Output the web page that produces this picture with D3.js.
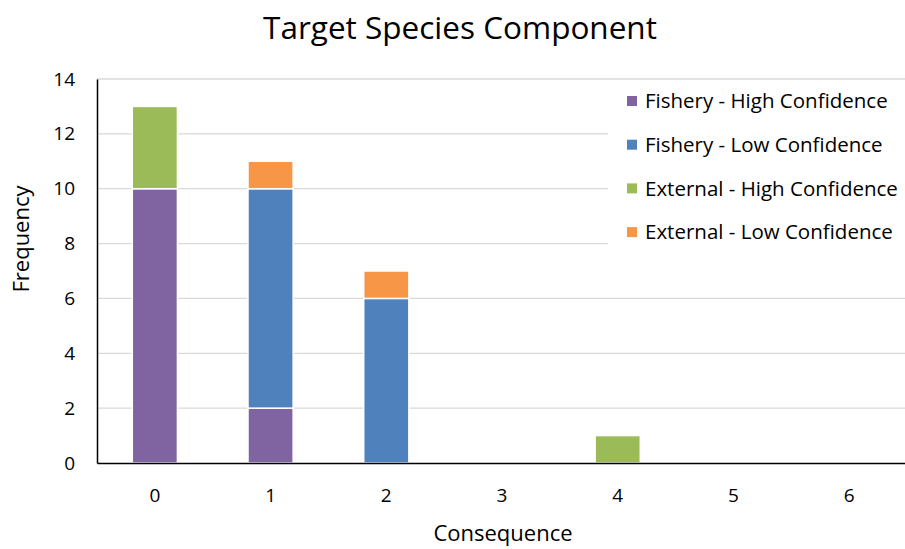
<!DOCTYPE html>
<html>
<head>
<meta charset="utf-8">
<script src="https://cdnjs.cloudflare.com/ajax/libs/d3/7.8.5/d3.min.js"></script>
<style>
  body { margin: 0; background: #fff; }
  svg text { font-family: "Open Sans", Lato, sans-serif; fill: #000; }
</style>
</head>
<body>
<div id="chart"></div>
<script>
const categories = ["0", "1", "2", "3", "4", "5", "6"];
const seriesNames = ["Fishery - High Confidence", "Fishery - Low Confidence", "External - High Confidence", "External - Low Confidence"];
const fisheryHigh = [10, 2, 0, 0, 0, 0, 0];
const fisheryLow = [0, 8, 6, 0, 0, 0, 0];
const externalHigh = [3, 0, 0, 0, 1, 0, 0];
const externalLow = [0, 1, 1, 0, 0, 0, 0];
const yTicks = [0, 2, 4, 6, 8, 10, 12, 14];
const colors = ["#8064a2", "#4f81bd", "#9bbb59", "#f79646"];

const W = 905, H = 549;
const margin = { top: 79, right: 0, bottom: 86, left: 97 };
const width = 810, height = H - margin.top - margin.bottom;

const rows = categories.map((c, i) => ({
  cat: c,
  [seriesNames[0]]: fisheryHigh[i],
  [seriesNames[1]]: fisheryLow[i],
  [seriesNames[2]]: externalHigh[i],
  [seriesNames[3]]: externalLow[i]
}));

const stacked = d3.stack().keys(seriesNames)(rows);

const svg = d3.select("#chart").append("svg")
  .attr("width", W).attr("height", H);

const g = svg.append("g").attr("transform", `translate(${margin.left},${margin.top})`);

const x = d3.scaleBand().domain(categories).range([0, width]).paddingInner(0.61).paddingOuter(0.305);
const y = d3.scaleLinear().domain([0, 14]).range([height, 0]);
const color = d3.scaleOrdinal().domain(seriesNames).range(colors);

// gridlines
g.append("g")
  .selectAll("line")
  .data(yTicks.filter(d => d > 0))
  .join("line")
  .attr("x1", 0).attr("x2", W - margin.left)
  .attr("y1", d => y(d)).attr("y2", d => y(d))
  .attr("stroke", "#d9d9d9").attr("stroke-width", 1.3);

// bars
g.append("g")
  .selectAll("g")
  .data(stacked)
  .join("g")
  .attr("fill", d => color(d.key))
  .selectAll("rect")
  .data(d => d.filter(p => p[1] - p[0] > 0))
  .join("rect")
  .attr("x", d => x(d.data.cat))
  .attr("y", d => y(d[1]))
  .attr("width", x.bandwidth())
  .attr("height", d => y(d[0]) - y(d[1]))
  .attr("stroke", "#fff")
  .attr("stroke-width", 1.5);

// axes
const yAxis = g.append("g")
  .call(d3.axisLeft(y).tickValues(yTicks).tickSize(0).tickPadding(22));
yAxis.select(".domain").attr("stroke", "#000").attr("stroke-width", 1.5);
yAxis.selectAll("text").attr("font-size", 19).style("font-family", "'Open Sans', sans-serif");

const xAxis = g.append("g")
  .attr("transform", `translate(0,${height})`)
  .call(d3.axisBottom(x).tickSize(0).tickPadding(26));
xAxis.select(".domain").attr("stroke", "#000").attr("stroke-width", 1.5);
xAxis.selectAll("text").attr("font-size", 19).style("font-family", "'Open Sans', sans-serif");

// titles
svg.append("text")
  .attr("x", 460).attr("y", 39)
  .attr("text-anchor", "middle")
  .attr("font-size", 31.5)
  .text("Target Species Component");

svg.append("text")
  .attr("x", 503).attr("y", 541)
  .attr("text-anchor", "middle")
  .attr("font-size", 22)
  .text("Consequence");

svg.append("text")
  .attr("transform", "rotate(-90)")
  .attr("x", -239)
  .attr("y", 29)
  .attr("text-anchor", "middle")
  .attr("font-size", 22)
  .text("Frequency");

// legend
const legend = svg.append("g").attr("transform", "translate(608,80)");
legend.append("rect")
  .attr("width", 297).attr("height", 175)
  .attr("fill", "#fff");

const item = legend.selectAll("g.item")
  .data(seriesNames)
  .join("g")
  .attr("class", "item")
  .attr("transform", (d, i) => `translate(0,${21 + i * 43.7})`);

item.append("rect")
  .attr("x", 19).attr("y", -5)
  .attr("width", 10).attr("height", 10)
  .attr("fill", d => color(d));

item.append("text")
  .attr("x", 37).attr("dy", "0.35em")
  .attr("font-size", 20.5)
  .text(d => d);
</script>
</body>
</html>
